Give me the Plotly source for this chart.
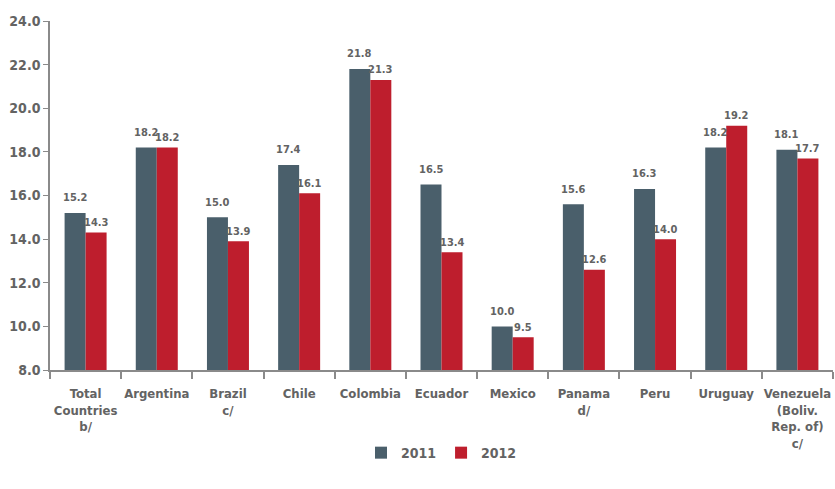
import plotly.graph_objects as go

categories = [
    "Total<br>Countries<br>b/", "Argentina", "Brazil<br>c/", "Chile", "Colombia",
    "Ecuador", "Mexico", "Panama<br>d/", "Peru", "Uruguay",
    "Venezuela<br>(Boliv.<br>Rep. of)<br>c/",
]
values_2011 = [15.2, 18.2, 15.0, 17.4, 21.8, 16.5, 10.0, 15.6, 16.3, 18.2, 18.1]
values_2012 = [14.3, 18.2, 13.9, 16.1, 21.3, 13.4, 9.5, 12.6, 14.0, 19.2, 17.7]
y_ticks = [8.0, 10.0, 12.0, 14.0, 16.0, 18.0, 20.0, 22.0, 24.0]

FONT = "DejaVu Sans Condensed"
GREY = "#636363"
AXIS = "#8a8a8a"

series = [
    ("2011", values_2011, "#4a5f6b", -10.5, 15),
    ("2012", values_2012, "#be1e2d", 10.5, 10),
]

fig = go.Figure()
annotations = []
for name, vals, color, dx, lift in series:
    fig.add_trace(go.Bar(
        x=categories, y=vals, name=name,
        marker=dict(color=color, line=dict(width=0)),
    ))
    # value labels sit above each bar, 2011 slightly higher than 2012
    for cat, v in zip(categories, vals):
        annotations.append(dict(
            x=cat, y=v, xref="x", yref="y", text=f"{v:.1f}", showarrow=False,
            xshift=dx, yshift=lift, yanchor="middle", xanchor="center",
            font=dict(family=FONT, size=11, color=GREY, weight="bold"),
        ))

fig.update_layout(
    width=835, height=489,
    margin=dict(l=50, r=2, t=21, b=119),
    paper_bgcolor="white", plot_bgcolor="white",
    barmode="group", bargap=0.41, bargroupgap=0,
    font=dict(family=FONT, color=GREY),
    annotations=annotations,
    legend=dict(orientation="h", x=0.5, xanchor="center", y=-0.238, yanchor="middle",
                font=dict(family=FONT, size=14, color=GREY, weight="bold"),
                itemwidth=30, traceorder="normal"),
    xaxis=dict(
        showline=True, linecolor=AXIS, linewidth=2,
        ticks="outside", tickson="boundaries", ticklen=7, tickcolor=AXIS, tickwidth=1.5,
        tickangle=0, ticklabelstandoff=10,
        tickfont=dict(family=FONT, size=13, color=GREY, weight="bold"),
        showgrid=False,
    ),
    yaxis=dict(
        range=[8, 24], tickvals=y_ticks, ticktext=[f"{t:.1f}" for t in y_ticks],
        showline=True, linecolor=AXIS, linewidth=1.5,
        ticks="outside", ticklen=5, tickcolor=AXIS,
        tickfont=dict(family=FONT, size=14, color=GREY, weight="bold"),
        showgrid=False, zeroline=False,
    ),
)

fig.write_html("out.html")
